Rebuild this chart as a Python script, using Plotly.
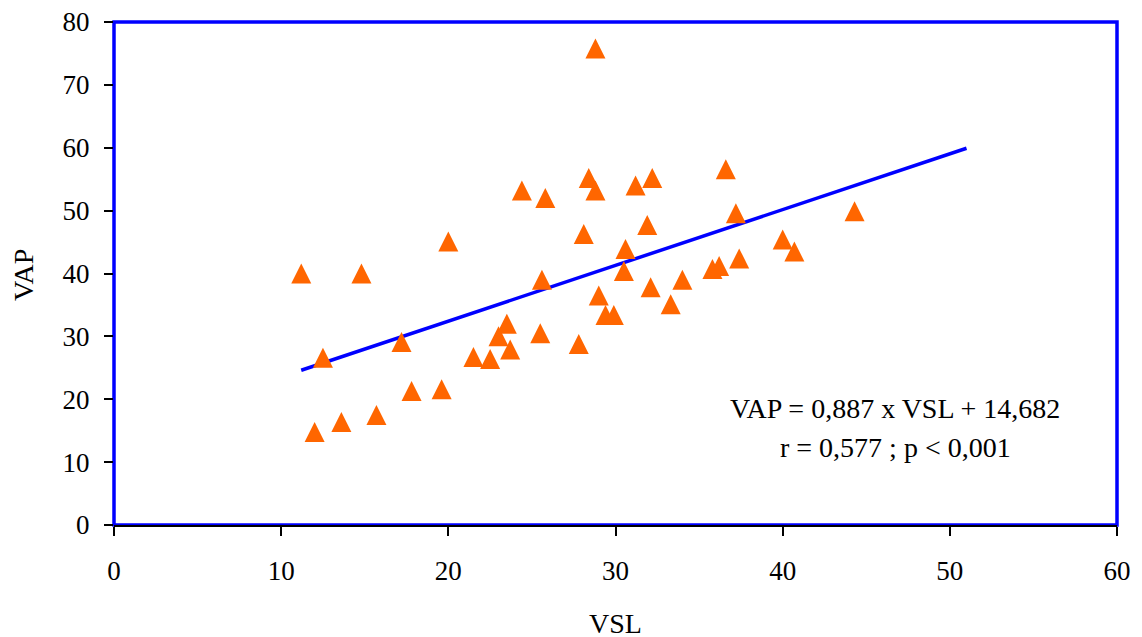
import plotly.graph_objects as go

# Data
vsl = [11.2, 14.8, 12.5, 12.0, 13.6, 15.7, 17.8, 19.6, 17.2, 20.0,
       21.5, 22.5, 23.0, 23.5, 23.7, 25.5, 24.4, 25.8, 25.6, 27.8,
       28.1, 28.8, 28.4, 28.8, 29.0, 29.4, 29.9, 30.5, 30.6, 31.2,
       32.2, 31.9, 32.1, 33.3, 34.0, 36.6, 37.2, 35.8, 36.2, 37.4,
       40.0, 40.7, 44.3]
vap = [40.0, 40.0, 26.6, 14.8, 16.4, 17.5, 21.3, 21.6, 29.1, 45.1,
       26.7, 26.4, 30.0, 32.0, 27.9, 30.5, 53.2, 52.0, 39.0, 28.8,
       46.3, 75.8, 55.2, 53.2, 36.5, 33.4, 33.4, 40.4, 43.9, 54.0,
       55.2, 47.7, 37.8, 35.1, 39.0, 56.6, 49.6, 40.7, 41.2, 42.4,
       45.4, 43.5, 49.9]

slope = 0.887
intercept = 14.682
fit_x = [11.2, 51.0]
fit_y = [slope * x + intercept for x in fit_x]

x_ticks = [0, 10, 20, 30, 40, 50, 60]
y_ticks = [0, 10, 20, 30, 40, 50, 60, 70, 80]

eq_line1 = "VAP = 0,887 x VSL + 14,682"
eq_line2 = "r = 0,577 ; p < 0,001"

W, H = 1142, 637
# page body has an 8px default margin; margins compensate for it
ml, mr, mt, mb = 106, 33, 14, 120
plot_h = H - mt - mb
y_range = [0, 80]
marker_size = 20
# arrow-up marker has its apex at the data point; shift an overlay axis
# so the triangle's centre sits on the value
shift = (marker_size / 2) / plot_h * (y_range[1] - y_range[0])

font_family = "Liberation Serif, Times New Roman, serif"

fig = go.Figure()
fig.add_trace(go.Scatter(
    x=fit_x, y=fit_y, mode="lines",
    line=dict(color="#0000FF", width=3.5),
    showlegend=False, hoverinfo="skip", yaxis="y"))
fig.add_trace(go.Scatter(
    x=vsl, y=vap, mode="markers",
    marker=dict(symbol="arrow-up", size=marker_size, color="#FF6600",
                line=dict(width=0)),
    showlegend=False, yaxis="y2"))

fig.add_shape(type="rect", xref="paper", yref="paper", x0=0, x1=1, y0=0, y1=1,
              line=dict(color="#0000FF", width=3.5), layer="below")

fig.add_annotation(x=0.779, y=0.2326, xref="paper", yref="paper",
                   text=eq_line1, showarrow=False,
                   xanchor="center", yanchor="middle",
                   font=dict(family=font_family, size=28, color="black"))
fig.add_annotation(x=0.779, y=0.155, xref="paper", yref="paper",
                   text=eq_line2, showarrow=False,
                   xanchor="center", yanchor="middle",
                   font=dict(family=font_family, size=28, color="black"))
# axis titles
fig.add_annotation(x=0.5, y=0, xref="paper", yref="paper", text="VSL",
                   showarrow=False, xanchor="center", yanchor="middle",
                   yshift=-98, font=dict(family=font_family, size=28, color="black"))
fig.add_annotation(x=0, y=0.497, xref="paper", yref="paper", text="VAP",
                   showarrow=False, xanchor="center", yanchor="middle",
                   xshift=-91, textangle=-90,
                   font=dict(family=font_family, size=28, color="black"))

fig.update_layout(
    width=W, height=H,
    margin=dict(l=ml, r=mr, t=mt, b=mb),
    paper_bgcolor="white", plot_bgcolor="white",
    font=dict(family=font_family, color="black"),
    xaxis=dict(range=[0, 60], tickvals=x_ticks, showgrid=False, zeroline=False,
               showline=True, linecolor="black", linewidth=1.5,
               ticks="outside", ticklen=9, tickwidth=1.5, tickcolor="black",
               tickfont=dict(size=27), ticklabelstandoff=12, automargin=False,
               ticklabeloverflow="allow"),
    yaxis=dict(range=y_range, tickvals=y_ticks, showgrid=False, zeroline=False,
               showline=False,
               ticks="outside", ticklen=9, tickwidth=1.5, tickcolor="black",
               tickfont=dict(size=27), ticklabelstandoff=9, automargin=False,
               ticklabeloverflow="allow"),
    yaxis2=dict(range=[y_range[0] - shift, y_range[1] - shift],
                overlaying="y", visible=False, automargin=False),
)

fig.write_html("out.html")
